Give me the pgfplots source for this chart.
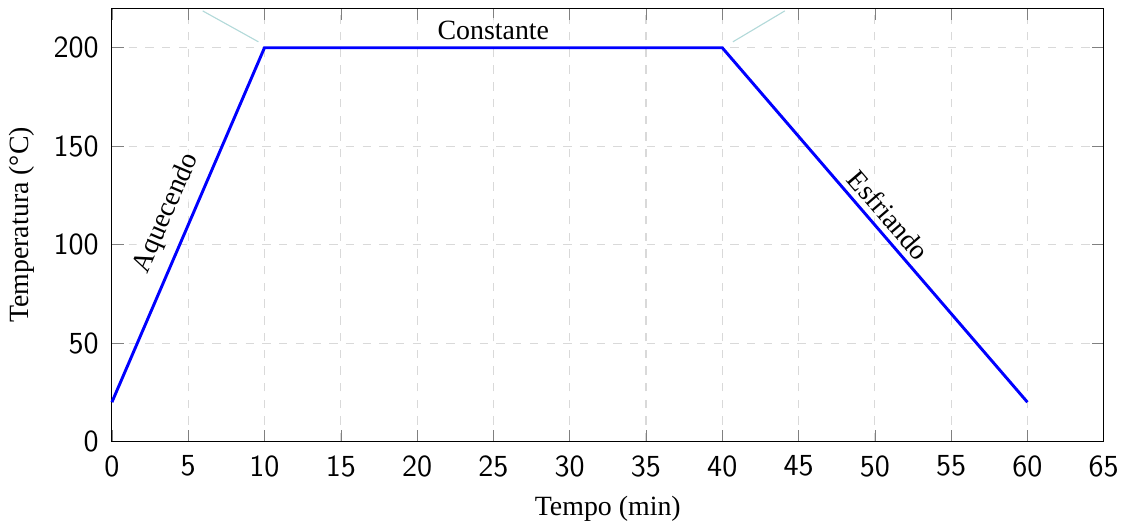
\documentclass[border=0pt]{standalone}
\usepackage{pgfplots}
\pgfplotsset{compat=1.18}
\usepackage{fontspec}
\setmainfont{Liberation Serif}
\begin{document}
\begin{tikzpicture}
\begin{axis}[
  scale only axis,
  width=356pt, height=155.5pt,
  xmin=0, xmax=65, ymin=0, ymax=220,
  xtick={0,5,...,65}, ytick={0,50,...,200},
  grid=major,
  grid style={dashed, gray!30},
  xlabel={Tempo (min)},
  ylabel={Temperatura (°C)},
  ticklabel style={font=\fontsize{11}{13}\selectfont\sffamily},
  xticklabel style={yshift=-1.5pt},
  yticklabel style={xshift=-1.2pt},
  /pgf/number format/assume math mode=true,
  clip=false,
]
\addplot[blue, line width=1.05pt] coordinates {(0,20) (10,200) (40,200) (60,20)};
\draw[teal!30] (axis cs:5.95,218.7) -- (axis cs:9.6,203);
\draw[teal!30] (axis cs:40.7,203) -- (axis cs:44.1,218.7);
\node[rotate=66.7, fill=white, fill opacity=0.7, text opacity=1, inner sep=1pt] at (axis cs:3.6,116) {Aquecendo};
\node[rotate=-49.3, fill=white, fill opacity=0.7, text opacity=1, inner sep=1pt] at (axis cs:50.9,115) {Esfriando};
\node[fill=white, fill opacity=0.7, text opacity=1, inner sep=1pt] at (axis cs:25,209) {Constante};
\end{axis}
\path (current axis.north) ++(0,3pt);
\end{tikzpicture}
\end{document}
